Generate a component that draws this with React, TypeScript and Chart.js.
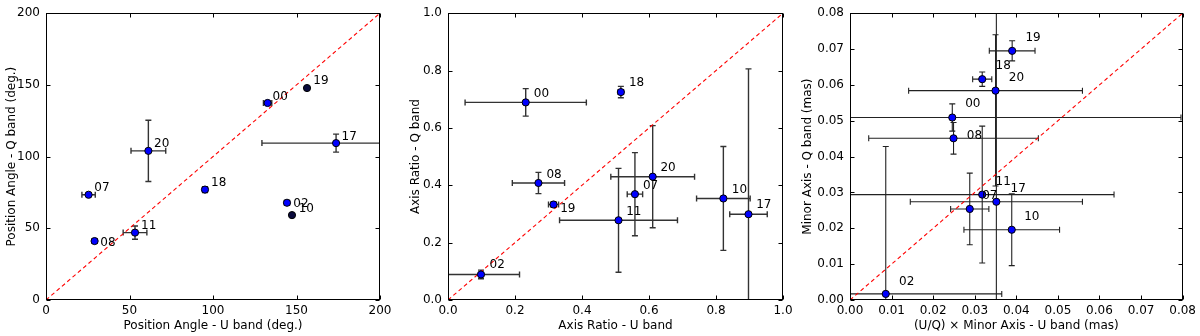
import React, { useEffect, useRef } from "react";
import { Chart, registerables } from "chart.js";

Chart.register(...registerables);

const FONT = "'DejaVu Sans', sans-serif";

const categories = ["00", "02", "07", "08", "10", "11", "17", "18", "19", "20"];

// ---------- Panel 1: Position angle ----------
const paU = [132.7, 144.3, 25.5, 29.1, 147.3, 53.3, 173.7, 95.2, 156.3, 61.3];
const paQ = [137.4, 67.8, 73.4, 41.1, 59.2, 47.0, 109.4, 77.0, 147.8, 104.0];
const paUErrLo = [2.5, 1.5, 4.0, 1.5, 0, 7.1, 44.4, 1.5, 0, 10.4];
const paUErrHi = [2.5, 1.5, 4.0, 1.5, 0, 7.1, 44.4, 1.5, 0, 10.4];
const paQErrLo = [0.8, 1.0, 0.8, 1.0, 0, 4.6, 6.3, 2.0, 0, 21.4];
const paQErrHi = [0.8, 1.0, 0.8, 1.0, 0, 4.6, 6.3, 2.0, 0, 21.4];
const paLabelX = [135.7, 148.1, 28.9, 32.5, 151.3, 56.9, 177.0, 98.8, 160.1, 64.7];
const paLabelY = [139.7, 64.9, 76.2, 38.0, 61.7, 49.3, 111.9, 79.8, 150.3, 106.9];
const paTicks = [0, 50, 100, 150, 200];

// ---------- Panel 2: Axis ratio ----------
const arU = [0.232, 0.0985, 0.558, 0.270, 0.822, 0.509, 0.897, 0.516, 0.315, 0.611];
const arQ = [0.689, 0.089, 0.369, 0.408, 0.354, 0.278, 0.299, 0.725, 0.333, 0.430];
const arUErrLo = [0.181, 0.115, 0.023, 0.078, 0.080, 0.176, 0.056, 0.008, 0.015, 0.125];
const arUErrHi = [0.181, 0.115, 0.023, 0.078, 0.080, 0.176, 0.056, 0.008, 0.015, 0.125];
const arQErrLo = [0.048, 0.015, 0.145, 0.037, 0.181, 0.181, 0.507, 0.020, 0.010, 0.178];
const arQErrHi = [0.048, 0.015, 0.145, 0.037, 0.181, 0.181, 0.507, 0.020, 0.010, 0.178];
const arLabelX = [0.256, 0.124, 0.582, 0.294, 0.847, 0.532, 0.920, 0.540, 0.335, 0.634];
const arLabelY = [0.708, 0.110, 0.388, 0.427, 0.373, 0.297, 0.320, 0.746, 0.308, 0.449];
const arTicks = [0, 0.2, 0.4, 0.6, 0.8, 1.0];

// ---------- Panel 3: Minor axis ----------
const maU = [0.0246, 0.0086, 0.0288, 0.0249, 0.0389, 0.0318, 0.0352, 0.0318, 0.0390, 0.0350];
const maQ = [0.0509, 0.0017, 0.0254, 0.0451, 0.0196, 0.0294, 0.0274, 0.0616, 0.0695, 0.0584];
const maUErrLo = [0.055, 0.028, 0.0046, 0.0204, 0.0115, 0.034, 0.0207, 0.0023, 0.0055, 0.0209];
const maUErrHi = [0.055, 0.0279, 0.0046, 0.0204, 0.0115, 0.0317, 0.0207, 0.0023, 0.0055, 0.0209];
const maQErrLo = [0.0038, 0.041, 0.010, 0.0044, 0.010, 0.0191, 0.09, 0.002, 0.0028, 0.0266];
const maQErrHi = [0.0038, 0.0411, 0.010, 0.0044, 0.010, 0.0191, 0.09, 0.002, 0.0028, 0.0156];
const maLabelX = [0.0277, 0.0118, 0.0318, 0.0281, 0.0419, 0.035, 0.0386, 0.035, 0.0422, 0.0382];
const maLabelY = [0.0538, 0.0043, 0.0281, 0.045, 0.0224, 0.0321, 0.0301, 0.0643, 0.0723, 0.0611];
const maTicks = [0, 0.01, 0.02, 0.03, 0.04, 0.05, 0.06, 0.07, 0.08];

type Panel = {
  x: number[]; y: number[];
  xLo: number[]; xHi: number[]; yLo: number[]; yHi: number[];
  lx: number[]; ly: number[];
  ticks: number[]; dec: number; max: number;
  xTitle: string; yTitle: string;
  left: number; yAxisWidth: number; rightPad: number; yTitlePad: number;
  errColor: string; errWidth: number;
};

const panels: Panel[] = [
  {
    x: paU, y: paQ, xLo: paUErrLo, xHi: paUErrHi, yLo: paQErrLo, yHi: paQErrHi,
    lx: paLabelX, ly: paLabelY, ticks: paTicks, dec: 0, max: 200,
    xTitle: "Position Angle - U band (deg.)", yTitle: "Position Angle - Q band (deg.)",
    left: 0, yAxisWidth: 46, rightPad: 20, yTitlePad: 5, errColor: "#333333", errWidth: 1.4,
  },
  {
    x: arU, y: arQ, xLo: arUErrLo, xHi: arUErrHi, yLo: arQErrLo, yHi: arQErrHi,
    lx: arLabelX, ly: arLabelY, ticks: arTicks, dec: 1, max: 1.0,
    xTitle: "Axis Ratio - U band", yTitle: "Axis Ratio - Q band",
    left: 400, yAxisWidth: 48, rightPad: 17, yTitlePad: 9, errColor: "#333333", errWidth: 1.4,
  },
  {
    x: maU, y: maQ, xLo: maUErrLo, xHi: maUErrHi, yLo: maQErrLo, yHi: maQErrHi,
    lx: maLabelX, ly: maLabelY, ticks: maTicks, dec: 2, max: 0.08,
    xTitle: "(U/Q) \u00d7 Minor Axis - U band (mas)", yTitle: "Minor Axis - Q band (mas)",
    left: 800, yAxisWidth: 50, rightPad: 15, yTitlePad: 1, errColor: "#222222", errWidth: 1.1,
  },
];

function makePlugin(p: Panel) {
  return {
    id: "panelDecor",
    beforeDatasetsDraw(chart: any) {
      const { ctx, chartArea: a, scales } = chart;
      const xs = scales.x, ys = scales.y;
      const cap = 3;
      ctx.save();
      ctx.beginPath();
      ctx.rect(a.left, a.top, a.right - a.left, a.bottom - a.top);
      ctx.clip();
      ctx.strokeStyle = p.errColor;
      ctx.lineWidth = p.errWidth;
      for (let i = 0; i < p.x.length; i++) {
        const px = xs.getPixelForValue(p.x[i]);
        const py = ys.getPixelForValue(p.y[i]);
        if (p.xLo[i] > 0 || p.xHi[i] > 0) {
          const l = xs.getPixelForValue(p.x[i] - p.xLo[i]);
          const r = xs.getPixelForValue(p.x[i] + p.xHi[i]);
          ctx.beginPath();
          ctx.moveTo(l, py); ctx.lineTo(r, py);
          ctx.moveTo(l, py - cap); ctx.lineTo(l, py + cap);
          ctx.moveTo(r, py - cap); ctx.lineTo(r, py + cap);
          ctx.stroke();
        }
        if (p.yLo[i] > 0 || p.yHi[i] > 0) {
          const b = ys.getPixelForValue(p.y[i] - p.yLo[i]);
          const t = ys.getPixelForValue(p.y[i] + p.yHi[i]);
          ctx.beginPath();
          ctx.moveTo(px, b); ctx.lineTo(px, t);
          ctx.moveTo(px - cap, b); ctx.lineTo(px + cap, b);
          ctx.moveTo(px - cap, t); ctx.lineTo(px + cap, t);
          ctx.stroke();
        }
      }
      ctx.restore();
    },
    afterDraw(chart: any) {
      const { ctx, chartArea: a, scales } = chart;
      const xs = scales.x, ys = scales.y;
      ctx.save();
      // labels
      ctx.fillStyle = "#000";
      ctx.font = `12px ${FONT}`;
      ctx.textAlign = "left";
      ctx.textBaseline = "alphabetic";
      for (let i = 0; i < categories.length; i++) {
        ctx.fillText(categories[i], xs.getPixelForValue(p.lx[i]), ys.getPixelForValue(p.ly[i]));
      }
      // frame
      ctx.strokeStyle = "#000";
      ctx.lineWidth = 1;
      const L = Math.round(a.left) + 0.5, R = Math.round(a.right) - 0.5;
      const T = Math.round(a.top) + 0.5, B = Math.round(a.bottom) - 0.5;
      ctx.strokeRect(L, T, R - L, B - T);
      // inward ticks
      const tl = 4;
      ctx.beginPath();
      for (const v of p.ticks) {
        const px = Math.round(xs.getPixelForValue(v)) + 0.5;
        ctx.moveTo(px, B); ctx.lineTo(px, B - tl);
        ctx.moveTo(px, T); ctx.lineTo(px, T + tl);
        const py = Math.round(ys.getPixelForValue(v)) + 0.5;
        ctx.moveTo(L, py); ctx.lineTo(L + tl, py);
        ctx.moveTo(R, py); ctx.lineTo(R - tl, py);
      }
      ctx.stroke();
      ctx.restore();
    },
  };
}

function PanelChart({ p }: { p: Panel }) {
  const ref = useRef<HTMLCanvasElement | null>(null);
  useEffect(() => {
    if (!ref.current) return;
    const pts = categories.map((_, i) => ({ x: p.x[i], y: p.y[i] }));
    const zeroErr = categories.map((_, i) => p.xLo[i] === 0 && p.yLo[i] === 0);
    const chart = new Chart(ref.current, {
      type: "scatter",
      data: {
        datasets: [
          {
            data: pts,
            pointRadius: 3.6,
            pointBorderWidth: 1,
            pointBorderColor: "#000",
            pointBackgroundColor: (c: any) => (zeroErr[c.dataIndex] ? "#0a0a3c" : "#0000ff"),
            showLine: false,
          },
          {
            data: [{ x: 0, y: 0 }, { x: p.max, y: p.max }],
            showLine: true,
            borderColor: "#ff0000",
            borderWidth: 1.1,
            borderDash: [4, 3],
            pointRadius: 0,
            fill: false,
          },
        ],
      } as any,
      options: {
        animation: false,
        responsive: false,
        maintainAspectRatio: false,
        devicePixelRatio: 1,
        events: [],
        layout: { padding: { top: 6, right: p.rightPad, left: 0, bottom: 0 } },
        plugins: { legend: { display: false }, tooltip: { enabled: false } },
        scales: {
          x: {
            type: "linear",
            min: 0,
            max: p.max,
            afterBuildTicks: (s: any) => { s.ticks = p.ticks.map((v) => ({ value: v })); },
            afterFit: (s: any) => { s.height = 36; },
            grid: { display: false, drawTicks: false },
            border: { display: false },
            ticks: {
              padding: 4,
              color: "#000",
              maxRotation: 0,
              autoSkip: false,
              font: { size: 12, family: FONT },
              callback: (v: any) => Number(v).toFixed(p.dec),
            },
            title: {
              display: true,
              text: p.xTitle,
              color: "#000",
              font: { size: 12, family: FONT },
              padding: { top: 0, bottom: 3 },
            },
          },
          y: {
            type: "linear",
            min: 0,
            max: p.max,
            afterBuildTicks: (s: any) => { s.ticks = p.ticks.map((v) => ({ value: v })); },
            afterFit: (s: any) => { s.width = p.yAxisWidth; },
            grid: { display: false, drawTicks: false },
            border: { display: false },
            ticks: {
              padding: 6,
              color: "#000",
              autoSkip: false,
              font: { size: 12, family: FONT },
              callback: (v: any) => Number(v).toFixed(p.dec),
            },
            title: {
              display: true,
              text: p.yTitle,
              color: "#000",
              font: { size: 12, family: FONT },
              padding: { top: p.yTitlePad, bottom: 0 },
            },
          },
        },
      } as any,
      plugins: [makePlugin(p)],
    });
    return () => chart.destroy();
  }, [p]);
  return (
    <canvas
      ref={ref}
      width={400}
      height={336}
      style={{ position: "absolute", left: p.left, top: 0, width: 400, height: 336 }}
    />
  );
}

export default function App() {
  return (
    <div style={{ position: "fixed", left: 0, top: 0, width: 1200, height: 336, background: "#fff" }}>
      {panels.map((p, i) => (
        <PanelChart key={i} p={p} />
      ))}
    </div>
  );
}
